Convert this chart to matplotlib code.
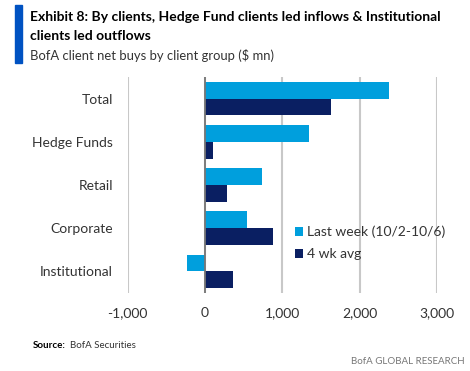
import matplotlib.pyplot as plt
import numpy as np
from matplotlib.patches import Rectangle

categories = ["Total", "Hedge Funds", "Retail", "Corporate", "Institutional"]
last_week = [2376, 1341, 733, 543, -233]
four_wk_avg = [1630, 100, 289, 884, 358]
series_labels = ["Last week (10/2-10/6)", "4 wk avg"]
x_ticks = [-1000, 0, 1000, 2000, 3000]

LIGHT = "#009FDD"
DARK = "#0A1F62"

plt.rcParams["font.family"] = ["Lato", "DejaVu Sans"]

fig = plt.figure(figsize=(4.7, 3.71), dpi=100)
W, H = 470, 371

# title block
fig.patches.append(Rectangle((15 / W, 1 - 63 / H), 7 / W, 58 / H,
                             transform=fig.transFigure, color="#0052C2", zorder=3))
fig.text(30 / W, 1 - 17 / H, "Exhibit 8: By clients, Hedge Fund clients led inflows & Institutional",
         fontsize=10, fontweight="bold", va="center", ha="left")
fig.text(30 / W, 1 - 36 / H, "clients led outflows",
         fontsize=10, fontweight="bold", va="center", ha="left")
fig.text(30 / W, 1 - 55 / H, "BofA client net buys by client group ($ mn)",
         fontsize=9.4, color="#333333", va="center", ha="left")

ax = fig.add_axes([127.7 / W, 1 - 293 / H, (437 - 127.7) / W, (293 - 77) / H])
y = np.arange(len(categories))
h = 0.39
ax.barh(y - h / 2, last_week, height=h, color=LIGHT, label=series_labels[0], zorder=3)
ax.barh(y + h / 2, four_wk_avg, height=h, color=DARK, label=series_labels[1], zorder=3)

ax.set_xlim(-1000, 3000)
ax.set_ylim(len(categories) - 0.5, -0.5)
ax.set_xticks(x_ticks)
ax.set_xticklabels([f"{v:,}" for v in x_ticks], fontsize=10, color="#333333")
ax.set_yticks(y)
ax.set_yticklabels(categories, fontsize=10, color="#333333")
ax.tick_params(length=0)
ax.tick_params(axis="x", pad=10)
ax.tick_params(axis="y", pad=10.5)
for s in ax.spines.values():
    s.set_visible(False)
ax.grid(axis="x", color="#C8C8C8", linewidth=1.5, zorder=0)
ax.axvline(0, color="#777777", linewidth=1.3, zorder=4)

ax.legend(loc="center left", bbox_to_anchor=(0.50, 0.232), frameon=False,
          fontsize=10, handlelength=0.6, handleheight=0.6, handletextpad=0.3,
          labelspacing=0.7, labelcolor="#333333")

fig.text(33 / W, 1 - 346 / H, "Source:", fontsize=7, fontweight="bold", va="center")
fig.text(70 / W, 1 - 346 / H, "BofA Securities", fontsize=7, color="#333333", va="center")
fig.text(465 / W, 1 - 361 / H, "BofA GLOBAL RESEARCH", fontsize=7, color="#777777",
         va="center", ha="right")

fig.savefig("out.png", dpi=100)
